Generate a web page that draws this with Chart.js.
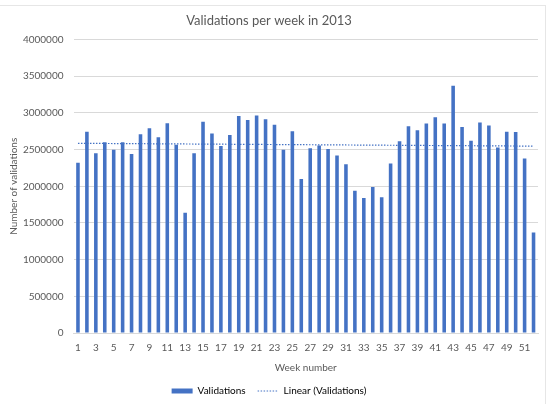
<!DOCTYPE html>
<html>
<head>
<meta charset="utf-8">
<script src="https://cdn.jsdelivr.net/npm/chart.js@4.4.0/dist/chart.umd.min.js"></script>
<style>
  html, body { margin: 0; padding: 0; background: #fff; }
  #wrap { position: relative; width: 551px; height: 404px; }
  #frame { position: absolute; left: -1px; top: 5px; width: 547px; height: 404px; border: 1px solid #e6e6e6; box-sizing: border-box; }
  canvas { position: absolute; left: 0; top: 0; }
</style>
</head>
<body>
<div id="wrap">
  <div id="frame"></div>
  <canvas id="chart" width="551" height="404"></canvas>
</div>
<script>
// weeks 1..52
const weeks = Array.from({length: 52}, (_, i) => String(i + 1));

// validations per week
const validations = [
  2320000, 2745000, 2450000, 2600000, 2500000, 2600000, 2440000, 2710000, 2790000, 2670000,
  2860000, 2565000, 1640000, 2450000, 2880000, 2720000, 2550000, 2700000, 2960000, 2905000,
  2965000, 2915000, 2840000, 2500000, 2750000, 2100000, 2520000, 2555000, 2510000, 2420000,
  2300000, 1940000, 1840000, 1990000, 1850000, 2310000, 2615000, 2820000, 2765000, 2855000,
  2940000, 2855000, 3370000, 2810000, 2620000, 2870000, 2830000, 2530000, 2745000, 2740000,
  2380000, 1370000
];

const yTicks = [0, 500000, 1000000, 1500000, 2000000, 2500000, 3000000, 3500000, 4000000];

// least squares trendline, like Excel's "Linear" trendline
function linearTrend(values) {
  const n = values.length;
  let sx = 0, sy = 0, sxy = 0, sxx = 0;
  values.forEach((v, i) => {
    const x = i + 1;
    sx += x; sy += v; sxy += x * v; sxx += x * x;
  });
  const slope = (n * sxy - sx * sy) / (n * sxx - sx * sx);
  const icpt = (sy - slope * sx) / n;
  return values.map((_, i) => icpt + slope * (i + 1));
}

const blue = '#4472C4';
const grey = '#595959';
const gridCol = '#d9d9d9';
Chart.defaults.font.family = 'Lato, "Open Sans", sans-serif';
Chart.defaults.color = grey;

new Chart(document.getElementById('chart'), {
  type: 'bar',
  data: {
    labels: weeks,
    datasets: [
      {
        label: 'Validations',
        data: validations,
        backgroundColor: blue,
        barPercentage: 0.4,
        categoryPercentage: 1.0,
        order: 2
      },
      {
        type: 'line',
        label: 'Linear (Validations)',
        data: linearTrend(validations),
        borderColor: blue,
        borderWidth: 1.2,
        borderDash: [1.5, 1.5],
        pointRadius: 0,
        fill: false,
        order: 1
      }
    ]
  },
  options: {
    responsive: false,
    animation: false,
    layout: {padding: {left: 0, right: 13, top: 5, bottom: -2}},
    plugins: {
      title: {
        display: true,
        text: 'Validations per week in 2013',
        color: grey,
        font: {size: 13, weight: 'normal'},
        padding: {top: 8, bottom: 11}
      },
      legend: {
        position: 'bottom',
        labels: {
          usePointStyle: true,
          pointStyleWidth: 21,
          boxHeight: 5,
          font: {size: 10},
          color: grey,
          padding: 12,
          generateLabels: () => [
            {text: 'Validations', fillStyle: blue, strokeStyle: blue, lineWidth: 0, pointStyle: 'rect', datasetIndex: 0},
            {text: 'Linear (Validations)', fillStyle: 'rgba(0,0,0,0)', strokeStyle: blue, lineWidth: 1, lineDash: [1.5, 1.5], pointStyle: 'line', datasetIndex: 1}
          ]
        }
      },
      tooltip: {enabled: false}
    },
    scales: {
      x: {
        grid: {display: false, drawTicks: false},
        border: {display: true, color: gridCol},
        ticks: {
          autoSkip: false,
          maxRotation: 0,
          padding: 9,
          font: {size: 10},
          callback: function (value, index) {
            return index % 2 === 0 ? this.getLabelForValue(value) : '';
          }
        },
        title: {display: true, text: 'Week number', font: {size: 10}, padding: {top: 4, bottom: 0}},
        afterFit: (s) => { s.height = 41; }
      },
      y: {
        min: 0,
        max: 4000000,
        afterBuildTicks: (s) => { s.ticks = yTicks.map(v => ({value: v})); },
        grid: {color: gridCol, drawTicks: false},
        border: {display: false},
        ticks: {padding: 10, font: {size: 10}, callback: (v) => String(v)},
        title: {display: true, text: 'Number of validations', font: {size: 10}, padding: {top: 8, bottom: 0}},
        afterFit: (s) => { s.width = 73.5; }
      }
    }
  }
});
</script>
</body>
</html>
